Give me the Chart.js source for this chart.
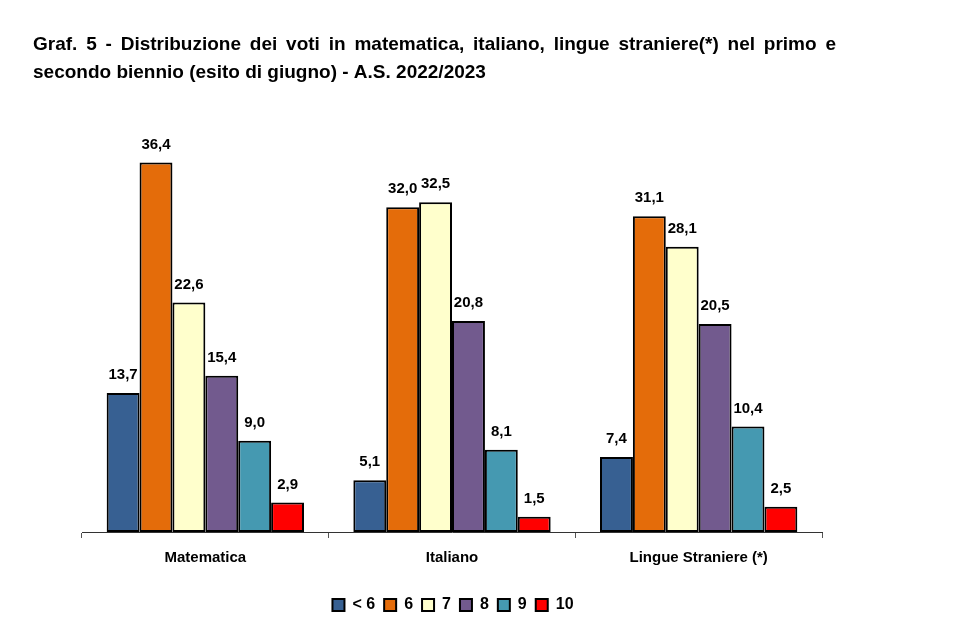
<!DOCTYPE html>
<html>
<head>
<meta charset="utf-8">
<script src="https://cdn.jsdelivr.net/npm/chart.js@4/dist/chart.umd.min.js"></script>
<style>
html,body{margin:0;padding:0;background:#fff;}
#wrap{position:relative;width:960px;height:631px;}
</style>
</head>
<body>
<div id="wrap"><canvas id="c" width="960" height="631"></canvas></div>
<script>
const titleLines = [
  "Graf. 5 - Distribuzione dei voti in matematica, italiano, lingue straniere(*) nel primo e",
  "secondo biennio (esito di giugno) - A.S. 2022/2023"
];
const categories = ["Matematica", "Italiano", "Lingue Straniere (*)"];
const seriesNames = ["< 6", "6", "7", "8", "9", "10"];
const valsLess6 = [13.7, 5.1, 7.4];
const vals6 = [36.4, 32.0, 31.1];
const vals7 = [22.6, 32.5, 28.1];
const vals8 = [15.4, 20.8, 20.5];
const vals9 = [9.0, 8.1, 10.4];
const vals10 = [2.9, 1.5, 2.5];
const seriesColors = ["#376092", "#E46C0A", "#FFFFCC", "#725A8E", "#4599B1", "#FF0000"];

const allVals = [valsLess6, vals6, vals7, vals8, vals9, vals10];
const FONT = "'Liberation Sans', Arial, sans-serif";

const titlePlugin = {
  id: 'customTitle',
  afterDraw(chart) {
    const ctx = chart.ctx;
    ctx.save();
    ctx.fillStyle = '#000';
    ctx.font = "bold 19px " + FONT;
    ctx.textBaseline = 'middle';
    ctx.textAlign = 'left';
    // first line justified between x=33 and x=836
    const words = titleLines[0].split(' ');
    const totalW = words.reduce((s, w) => s + ctx.measureText(w).width, 0);
    const gap = Math.max(ctx.measureText(' ').width, (836 - 33 - totalW) / (words.length - 1));
    let x = 33;
    words.forEach(w => {
      ctx.fillText(w, x, 45);
      x += ctx.measureText(w).width + gap;
    });
    ctx.fillText(titleLines[1], 33, 73);
    ctx.restore();
  }
};

const labelPlugin = {
  id: 'valueLabels',
  afterDatasetsDraw(chart) {
    const ctx = chart.ctx;
    ctx.save();
    ctx.fillStyle = '#000';
    ctx.font = "bold 15px " + FONT;
    ctx.textAlign = 'center';
    ctx.textBaseline = 'middle';
    chart.data.datasets.forEach((ds, i) => {
      const meta = chart.getDatasetMeta(i);
      meta.data.forEach((bar, j) => {
        const v = ds.data[j];
        ctx.fillText(v.toFixed(1).replace('.', ','), bar.x, bar.y - 18);
      });
    });
    ctx.restore();
  }
};

new Chart(document.getElementById('c'), {
  type: 'bar',
  data: {
    labels: categories,
    datasets: seriesNames.map((n, i) => ({
      label: n,
      data: allVals[i],
      backgroundColor: seriesColors[i],
      borderColor: '#000',
      borderWidth: 2,
      borderSkipped: false,
      categoryPercentage: 0.8,
      barPercentage: 1.0
    }))
  },
  options: {
    responsive: false,
    animation: false,
    layout: { padding: { top: 126, right: 54, bottom: 8, left: 0 } },
    plugins: {
      title: { display: false },
      tooltip: { enabled: false },
      legend: {
        position: 'bottom',
        labels: {
          boxWidth: 12,
          boxHeight: 12,
          padding: 9,
          color: '#000',
          font: { family: FONT, size: 16, weight: 'bold' }
        }
      }
    },
    scales: {
      x: {
        grid: { display: true, drawOnChartArea: false, drawTicks: true, tickLength: 6, color: '#555', offset: true },
        border: { display: true, color: '#333', width: 1 },
        ticks: { color: '#000', padding: 11, font: { family: FONT, size: 15, weight: 'bold' } },
        afterFit(s) { s.height = 56; }
      },
      y: {
        min: 0, max: 40,
        display: true,
        grid: { display: false },
        border: { display: false },
        ticks: { display: false },
        afterFit(s) { s.width = 82; }
      },
      y2: {
        position: 'right',
        min: 0, max: 40,
        display: true,
        grid: { display: false },
        border: { display: false },
        ticks: { display: false },
        afterFit(s) { s.width = 84; }
      }
    }
  },
  plugins: [titlePlugin, labelPlugin]
});
</script>
</body>
</html>
